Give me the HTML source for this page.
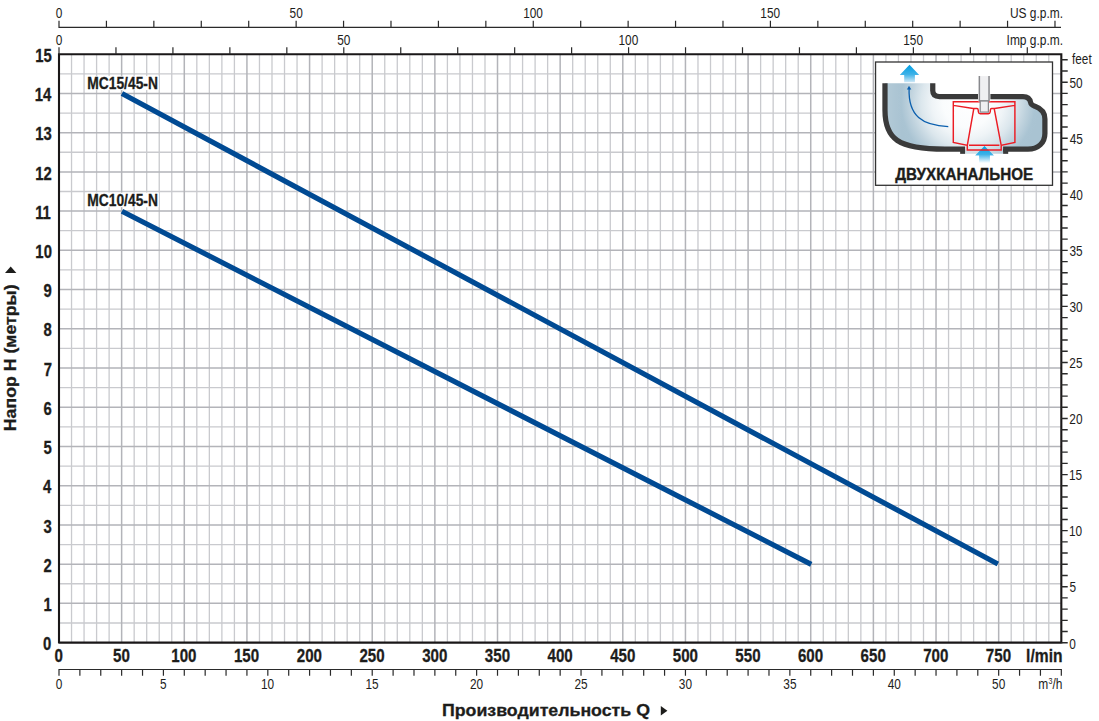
<!DOCTYPE html>
<html lang="ru"><head><meta charset="utf-8"><title>MC 45-N</title>
<style>html,body{margin:0;padding:0;background:#fff}body{width:1099px;height:721px;overflow:hidden}svg{display:block}</style>
</head><body>
<svg width="1099" height="721" viewBox="0 0 1099 721" font-family="'Liberation Sans', Arial, sans-serif">
<defs>
<linearGradient id="ga" x1="0" y1="0" x2="0" y2="1"><stop offset="0" stop-color="#009ee2"/><stop offset="0.55" stop-color="#3db2e8"/><stop offset="1" stop-color="#cfe8f6"/></linearGradient>
<linearGradient id="ga2" x1="0" y1="0" x2="0" y2="1"><stop offset="0" stop-color="#009ee2"/><stop offset="0.5" stop-color="#3db2e8"/><stop offset="1" stop-color="#ffffff"/></linearGradient>

<radialGradient id="gf" gradientUnits="userSpaceOnUse" cx="968" cy="102" r="72">
<stop offset="0" stop-color="#ffffff"/><stop offset="0.35" stop-color="#fafcfd"/><stop offset="0.5" stop-color="#eff4f7"/><stop offset="0.65" stop-color="#dce7ed"/><stop offset="0.8" stop-color="#c0d3de"/><stop offset="0.93" stop-color="#aac4d3"/><stop offset="1" stop-color="#a9c3d2"/></radialGradient>
<linearGradient id="gl" gradientUnits="userSpaceOnUse" x1="886" y1="0" x2="902" y2="0"><stop offset="0" stop-color="#fff" stop-opacity="0.12"/><stop offset="1" stop-color="#fff" stop-opacity="0"/></linearGradient>
</defs>
<rect width="1099" height="721" fill="#fff"/>
<path d="M71.53 54.20V642.60M84.06 54.20V642.60M96.59 54.20V642.60M109.12 54.20V642.60M134.17 54.20V642.60M146.70 54.20V642.60M159.23 54.20V642.60M171.76 54.20V642.60M196.82 54.20V642.60M209.35 54.20V642.60M221.88 54.20V642.60M234.41 54.20V642.60M259.46 54.20V642.60M271.99 54.20V642.60M284.52 54.20V642.60M297.05 54.20V642.60M322.11 54.20V642.60M334.64 54.20V642.60M347.17 54.20V642.60M359.70 54.20V642.60M384.75 54.20V642.60M397.28 54.20V642.60M409.81 54.20V642.60M422.34 54.20V642.60M447.40 54.20V642.60M459.93 54.20V642.60M472.46 54.20V642.60M484.99 54.20V642.60M510.04 54.20V642.60M522.57 54.20V642.60M535.10 54.20V642.60M547.63 54.20V642.60M572.69 54.20V642.60M585.22 54.20V642.60M597.75 54.20V642.60M610.28 54.20V642.60M635.33 54.20V642.60M647.86 54.20V642.60M660.39 54.20V642.60M672.92 54.20V642.60M697.98 54.20V642.60M710.51 54.20V642.60M723.04 54.20V642.60M735.57 54.20V642.60M760.62 54.20V642.60M773.15 54.20V642.60M785.68 54.20V642.60M798.21 54.20V642.60M823.27 54.20V642.60M835.80 54.20V642.60M848.33 54.20V642.60M860.86 54.20V642.60M885.91 54.20V642.60M898.44 54.20V642.60M910.97 54.20V642.60M923.50 54.20V642.60M948.56 54.20V642.60M961.09 54.20V642.60M973.62 54.20V642.60M986.15 54.20V642.60M1011.20 54.20V642.60M1023.73 54.20V642.60M1036.26 54.20V642.60M1048.79 54.20V642.60" stroke="#c9cace" stroke-width="1.3" fill="none"/>
<path d="M59.00 622.99H1061.32M59.00 583.76H1061.32M59.00 544.53H1061.32M59.00 505.31H1061.32M59.00 466.08H1061.32M59.00 426.85H1061.32M59.00 387.62H1061.32M59.00 348.40H1061.32M59.00 309.17H1061.32M59.00 269.94H1061.32M59.00 230.72H1061.32M59.00 191.49H1061.32M59.00 152.26H1061.32M59.00 113.04H1061.32M59.00 73.81H1061.32" stroke="#c9cace" stroke-width="1.3" fill="none"/>
<path d="M121.64 54.20V642.60M184.29 54.20V642.60M246.93 54.20V642.60M309.58 54.20V642.60M372.22 54.20V642.60M434.87 54.20V642.60M497.51 54.20V642.60M560.16 54.20V642.60M622.80 54.20V642.60M685.45 54.20V642.60M748.09 54.20V642.60M810.74 54.20V642.60M873.38 54.20V642.60M936.03 54.20V642.60M998.67 54.20V642.60M59.00 603.37H1061.32M59.00 564.15H1061.32M59.00 524.92H1061.32M59.00 485.69H1061.32M59.00 446.47H1061.32M59.00 407.24H1061.32M59.00 368.01H1061.32M59.00 328.78H1061.32M59.00 289.56H1061.32M59.00 250.33H1061.32M59.00 211.10H1061.32M59.00 171.88H1061.32M59.00 132.65H1061.32M59.00 93.42H1061.32" stroke="#b3b4b9" stroke-width="1.5" fill="none"/>
<rect x="86.8" y="75.8" width="72" height="14.3" fill="#fff"/>
<rect x="86.8" y="192.6" width="72" height="14.6" fill="#fff"/>
<path d="M121.94 93.52L997.85 564.05M121.94 211.20L811.24 564.35" stroke="#004a93" stroke-width="5.2" fill="none"/>
<text transform="translate(87.28 88.70) scale(0.8637 1)" font-size="16" font-weight="bold" fill="#1d1d1b" stroke="#1d1d1b" stroke-width="0.3">MC15/45-N</text>
<text transform="translate(87.28 206.10) scale(0.8637 1)" font-size="16" font-weight="bold" fill="#1d1d1b" stroke="#1d1d1b" stroke-width="0.3">MC10/45-N</text>
<path d="M59.00 53.20V643.60M1061.32 53.20V643.60M59.00 54.20H1061.32M59.00 642.60H1061.32" stroke="#1a1718" stroke-width="2.1" fill="none"/>
<text transform="translate(42.93 650.30) scale(0.8000 1)" font-size="18.6" font-weight="bold" fill="#1d1d1b" stroke="#1d1d1b" stroke-width="0.3">0</text>
<text transform="translate(43.44 611.07) scale(0.8000 1)" font-size="18.6" font-weight="bold" fill="#1d1d1b" stroke="#1d1d1b" stroke-width="0.3">1</text>
<text transform="translate(43.62 571.85) scale(0.8000 1)" font-size="18.6" font-weight="bold" fill="#1d1d1b" stroke="#1d1d1b" stroke-width="0.3">2</text>
<text transform="translate(43.56 532.62) scale(0.8000 1)" font-size="18.6" font-weight="bold" fill="#1d1d1b" stroke="#1d1d1b" stroke-width="0.3">3</text>
<text transform="translate(43.10 493.39) scale(0.8000 1)" font-size="18.6" font-weight="bold" fill="#1d1d1b" stroke="#1d1d1b" stroke-width="0.3">4</text>
<text transform="translate(43.44 454.17) scale(0.8000 1)" font-size="18.6" font-weight="bold" fill="#1d1d1b" stroke="#1d1d1b" stroke-width="0.3">5</text>
<text transform="translate(43.56 414.94) scale(0.8000 1)" font-size="18.6" font-weight="bold" fill="#1d1d1b" stroke="#1d1d1b" stroke-width="0.3">6</text>
<text transform="translate(43.68 375.71) scale(0.8000 1)" font-size="18.6" font-weight="bold" fill="#1d1d1b" stroke="#1d1d1b" stroke-width="0.3">7</text>
<text transform="translate(43.48 336.48) scale(0.8000 1)" font-size="18.6" font-weight="bold" fill="#1d1d1b" stroke="#1d1d1b" stroke-width="0.3">8</text>
<text transform="translate(43.58 297.26) scale(0.8000 1)" font-size="18.6" font-weight="bold" fill="#1d1d1b" stroke="#1d1d1b" stroke-width="0.3">9</text>
<text transform="translate(35.36 258.03) scale(0.8000 1)" font-size="18.6" font-weight="bold" fill="#1d1d1b" stroke="#1d1d1b" stroke-width="0.3">10</text>
<text transform="translate(35.16 218.80) scale(0.8000 1)" font-size="18.6" font-weight="bold" fill="#1d1d1b" stroke="#1d1d1b" stroke-width="0.3">11</text>
<text transform="translate(35.34 179.58) scale(0.8000 1)" font-size="18.6" font-weight="bold" fill="#1d1d1b" stroke="#1d1d1b" stroke-width="0.3">12</text>
<text transform="translate(35.29 140.35) scale(0.8000 1)" font-size="18.6" font-weight="bold" fill="#1d1d1b" stroke="#1d1d1b" stroke-width="0.3">13</text>
<text transform="translate(34.83 101.12) scale(0.8000 1)" font-size="18.6" font-weight="bold" fill="#1d1d1b" stroke="#1d1d1b" stroke-width="0.3">14</text>
<text transform="translate(35.16 61.90) scale(0.8000 1)" font-size="18.6" font-weight="bold" fill="#1d1d1b" stroke="#1d1d1b" stroke-width="0.3">15</text>
<text transform="translate(54.61 662.00) scale(0.8120 1)" font-size="18.6" font-weight="bold" fill="#1d1d1b" stroke="#1d1d1b" stroke-width="0.3">0</text>
<text transform="translate(113.12 662.00) scale(0.8120 1)" font-size="18.6" font-weight="bold" fill="#1d1d1b" stroke="#1d1d1b" stroke-width="0.3">50</text>
<text transform="translate(171.32 662.00) scale(0.8120 1)" font-size="18.6" font-weight="bold" fill="#1d1d1b" stroke="#1d1d1b" stroke-width="0.3">100</text>
<text transform="translate(233.97 662.00) scale(0.8120 1)" font-size="18.6" font-weight="bold" fill="#1d1d1b" stroke="#1d1d1b" stroke-width="0.3">150</text>
<text transform="translate(296.83 662.00) scale(0.8120 1)" font-size="18.6" font-weight="bold" fill="#1d1d1b" stroke="#1d1d1b" stroke-width="0.3">200</text>
<text transform="translate(359.47 662.00) scale(0.8120 1)" font-size="18.6" font-weight="bold" fill="#1d1d1b" stroke="#1d1d1b" stroke-width="0.3">250</text>
<text transform="translate(422.21 662.00) scale(0.8120 1)" font-size="18.6" font-weight="bold" fill="#1d1d1b" stroke="#1d1d1b" stroke-width="0.3">300</text>
<text transform="translate(484.85 662.00) scale(0.8120 1)" font-size="18.6" font-weight="bold" fill="#1d1d1b" stroke="#1d1d1b" stroke-width="0.3">350</text>
<text transform="translate(547.56 662.00) scale(0.8120 1)" font-size="18.6" font-weight="bold" fill="#1d1d1b" stroke="#1d1d1b" stroke-width="0.3">400</text>
<text transform="translate(610.20 662.00) scale(0.8120 1)" font-size="18.6" font-weight="bold" fill="#1d1d1b" stroke="#1d1d1b" stroke-width="0.3">450</text>
<text transform="translate(672.73 662.00) scale(0.8120 1)" font-size="18.6" font-weight="bold" fill="#1d1d1b" stroke="#1d1d1b" stroke-width="0.3">500</text>
<text transform="translate(735.37 662.00) scale(0.8120 1)" font-size="18.6" font-weight="bold" fill="#1d1d1b" stroke="#1d1d1b" stroke-width="0.3">550</text>
<text transform="translate(797.97 662.00) scale(0.8120 1)" font-size="18.6" font-weight="bold" fill="#1d1d1b" stroke="#1d1d1b" stroke-width="0.3">600</text>
<text transform="translate(860.62 662.00) scale(0.8120 1)" font-size="18.6" font-weight="bold" fill="#1d1d1b" stroke="#1d1d1b" stroke-width="0.3">650</text>
<text transform="translate(923.22 662.00) scale(0.8120 1)" font-size="18.6" font-weight="bold" fill="#1d1d1b" stroke="#1d1d1b" stroke-width="0.3">700</text>
<text transform="translate(985.86 662.00) scale(0.8120 1)" font-size="18.6" font-weight="bold" fill="#1d1d1b" stroke="#1d1d1b" stroke-width="0.3">750</text>
<text transform="translate(1026.11 662.00) scale(0.8400 1)" font-size="18.6" font-weight="bold" fill="#1d1d1b" stroke="#1d1d1b" stroke-width="0.3">l/min</text>
<path d="M58.40 669.50H1061.92M59.00 669.50v6.2M79.88 669.50v6.2M100.76 669.50v6.2M121.64 669.50v6.2M142.53 669.50v6.2M163.41 669.50v6.2M184.29 669.50v6.2M205.17 669.50v6.2M226.05 669.50v6.2M246.93 669.50v6.2M267.82 669.50v6.2M288.70 669.50v6.2M309.58 669.50v6.2M330.46 669.50v6.2M351.34 669.50v6.2M372.22 669.50v6.2M393.11 669.50v6.2M413.99 669.50v6.2M434.87 669.50v6.2M455.75 669.50v6.2M476.63 669.50v6.2M497.51 669.50v6.2M518.40 669.50v6.2M539.28 669.50v6.2M560.16 669.50v6.2M581.04 669.50v6.2M601.92 669.50v6.2M622.80 669.50v6.2M643.69 669.50v6.2M664.57 669.50v6.2M685.45 669.50v6.2M706.33 669.50v6.2M727.21 669.50v6.2M748.09 669.50v6.2M768.98 669.50v6.2M789.86 669.50v6.2M810.74 669.50v6.2M831.62 669.50v6.2M852.50 669.50v6.2M873.38 669.50v6.2M894.27 669.50v6.2M915.15 669.50v6.2M936.03 669.50v6.2M956.91 669.50v6.2M977.79 669.50v6.2M998.67 669.50v6.2M1019.56 669.50v6.2M1040.44 669.50v6.2M1061.32 669.50v6.2" stroke="#2a2a2a" stroke-width="1.2" fill="none"/>
<text transform="translate(55.70 688.60) scale(0.7750 1)" font-size="15.3" font-weight="normal" fill="#1d1d1b" >0</text>
<text transform="translate(160.12 688.60) scale(0.7750 1)" font-size="15.3" font-weight="normal" fill="#1d1d1b" >5</text>
<text transform="translate(261.00 688.60) scale(0.7750 1)" font-size="15.3" font-weight="normal" fill="#1d1d1b" >10</text>
<text transform="translate(365.43 688.60) scale(0.7750 1)" font-size="15.3" font-weight="normal" fill="#1d1d1b" >15</text>
<text transform="translate(469.97 688.60) scale(0.7750 1)" font-size="15.3" font-weight="normal" fill="#1d1d1b" >20</text>
<text transform="translate(574.40 688.60) scale(0.7750 1)" font-size="15.3" font-weight="normal" fill="#1d1d1b" >25</text>
<text transform="translate(678.86 688.60) scale(0.7750 1)" font-size="15.3" font-weight="normal" fill="#1d1d1b" >30</text>
<text transform="translate(783.29 688.60) scale(0.7750 1)" font-size="15.3" font-weight="normal" fill="#1d1d1b" >35</text>
<text transform="translate(887.77 688.60) scale(0.7750 1)" font-size="15.3" font-weight="normal" fill="#1d1d1b" >40</text>
<text transform="translate(992.07 688.60) scale(0.7750 1)" font-size="15.3" font-weight="normal" fill="#1d1d1b" >50</text>
<text transform="translate(1038.21 688.70) scale(0.7870 1)" font-size="15.2" font-weight="normal" fill="#1d1d1b" >m</text>
<text transform="translate(1048.43 683.80) scale(0.7870 1)" font-size="9" font-weight="normal" fill="#1d1d1b" >3</text>
<text transform="translate(1052.40 688.70) scale(0.7870 1)" font-size="15.2" font-weight="normal" fill="#1d1d1b" >/h</text>
<path d="M58.40 27.30H1061.02M59.00 27.30v-6.6M106.43 27.30v-6.6M153.85 27.30v-6.6M201.28 27.30v-6.6M248.71 27.30v-6.6M296.14 27.30v-6.6M343.56 27.30v-6.6M390.99 27.30v-6.6M438.42 27.30v-6.6M485.85 27.30v-6.6M533.27 27.30v-6.6M580.70 27.30v-6.6M628.13 27.30v-6.6M675.56 27.30v-6.6M722.98 27.30v-6.6M770.41 27.30v-6.6M817.84 27.30v-6.6M865.27 27.30v-6.6M912.69 27.30v-6.6M960.12 27.30v-6.6M1007.55 27.30v-6.6M1054.98 27.30v-6.6" stroke="#2a2a2a" stroke-width="1.2" fill="none"/>
<text transform="translate(55.70 18.20) scale(0.7750 1)" font-size="15.3" font-weight="normal" fill="#1d1d1b" >0</text>
<text transform="translate(289.54 18.20) scale(0.7750 1)" font-size="15.3" font-weight="normal" fill="#1d1d1b" >50</text>
<text transform="translate(523.16 18.20) scale(0.7750 1)" font-size="15.3" font-weight="normal" fill="#1d1d1b" >100</text>
<text transform="translate(760.30 18.20) scale(0.7750 1)" font-size="15.3" font-weight="normal" fill="#1d1d1b" >150</text>
<text transform="translate(1009.91 18.00) scale(0.7870 1)" font-size="15.2" font-weight="normal" fill="#1d1d1b" >US g.p.m.</text>
<path d="M59.00 54.20v-7M115.96 54.20v-7M172.92 54.20v-7M229.87 54.20v-7M286.83 54.20v-7M343.79 54.20v-7M400.75 54.20v-7M457.71 54.20v-7M514.66 54.20v-7M571.62 54.20v-7M628.58 54.20v-7M685.54 54.20v-7M742.50 54.20v-7M799.45 54.20v-7M856.41 54.20v-7M913.37 54.20v-7M970.33 54.20v-7M1027.29 54.20v-7" stroke="#2a2a2a" stroke-width="1.2" fill="none"/>
<text transform="translate(55.70 45.30) scale(0.7750 1)" font-size="15.3" font-weight="normal" fill="#1d1d1b" >0</text>
<text transform="translate(337.19 45.30) scale(0.7750 1)" font-size="15.3" font-weight="normal" fill="#1d1d1b" >50</text>
<text transform="translate(618.47 45.30) scale(0.7750 1)" font-size="15.3" font-weight="normal" fill="#1d1d1b" >100</text>
<text transform="translate(903.26 45.30) scale(0.7750 1)" font-size="15.3" font-weight="normal" fill="#1d1d1b" >150</text>
<text transform="translate(1006.59 45.10) scale(0.7870 1)" font-size="15.2" font-weight="normal" fill="#1d1d1b" >Imp g.p.m.</text>
<path d="M1061.32 642.75h6.4M1061.32 631.54h6.4M1061.32 620.33h6.4M1061.32 609.12h6.4M1061.32 597.91h6.4M1061.32 586.70h6.4M1061.32 575.48h6.4M1061.32 564.27h6.4M1061.32 553.06h6.4M1061.32 541.85h6.4M1061.32 530.64h6.4M1061.32 519.43h6.4M1061.32 508.22h6.4M1061.32 497.01h6.4M1061.32 485.80h6.4M1061.32 474.59h6.4M1061.32 463.37h6.4M1061.32 452.16h6.4M1061.32 440.95h6.4M1061.32 429.74h6.4M1061.32 418.53h6.4M1061.32 407.32h6.4M1061.32 396.11h6.4M1061.32 384.90h6.4M1061.32 373.69h6.4M1061.32 362.47h6.4M1061.32 351.26h6.4M1061.32 340.05h6.4M1061.32 328.84h6.4M1061.32 317.63h6.4M1061.32 306.42h6.4M1061.32 295.21h6.4M1061.32 284.00h6.4M1061.32 272.79h6.4M1061.32 261.58h6.4M1061.32 250.37h6.4M1061.32 239.15h6.4M1061.32 227.94h6.4M1061.32 216.73h6.4M1061.32 205.52h6.4M1061.32 194.31h6.4M1061.32 183.10h6.4M1061.32 171.89h6.4M1061.32 160.68h6.4M1061.32 149.47h6.4M1061.32 138.26h6.4M1061.32 127.04h6.4M1061.32 115.83h6.4M1061.32 104.62h6.4M1061.32 93.41h6.4M1061.32 82.20h6.4M1061.32 70.99h6.4M1061.32 59.78h6.4" stroke="#2a2a2a" stroke-width="1.4" fill="none"/>
<text transform="translate(1069.24 649.25) scale(0.7750 1)" font-size="15.3" font-weight="normal" fill="#1d1d1b" >0</text>
<text transform="translate(1069.43 592.45) scale(0.7750 1)" font-size="15.3" font-weight="normal" fill="#1d1d1b" >5</text>
<text transform="translate(1069.00 536.39) scale(0.7750 1)" font-size="15.3" font-weight="normal" fill="#1d1d1b" >10</text>
<text transform="translate(1069.00 480.34) scale(0.7750 1)" font-size="15.3" font-weight="normal" fill="#1d1d1b" >15</text>
<text transform="translate(1069.30 424.28) scale(0.7750 1)" font-size="15.3" font-weight="normal" fill="#1d1d1b" >20</text>
<text transform="translate(1069.30 368.22) scale(0.7750 1)" font-size="15.3" font-weight="normal" fill="#1d1d1b" >25</text>
<text transform="translate(1069.45 312.17) scale(0.7750 1)" font-size="15.3" font-weight="normal" fill="#1d1d1b" >30</text>
<text transform="translate(1069.45 256.12) scale(0.7750 1)" font-size="15.3" font-weight="normal" fill="#1d1d1b" >35</text>
<text transform="translate(1069.63 200.06) scale(0.7750 1)" font-size="15.3" font-weight="normal" fill="#1d1d1b" >40</text>
<text transform="translate(1069.63 144.01) scale(0.7750 1)" font-size="15.3" font-weight="normal" fill="#1d1d1b" >45</text>
<text transform="translate(1069.43 87.95) scale(0.7750 1)" font-size="15.3" font-weight="normal" fill="#1d1d1b" >50</text>
<text transform="translate(1072.03 64.30) scale(0.7752 1)" font-size="15.2" font-weight="normal" fill="#1d1d1b" >feet</text>
<text transform="translate(442.01 715.90) scale(1.0446 1)" font-size="17" font-weight="bold" fill="#1d1d1b" stroke="#1d1d1b" stroke-width="0.3">Производительность Q</text>
<path d="M660.8 706.0L667.4 710.8L660.8 715.6Z" fill="#1d1d1b"/>
<text transform="translate(15.6 431.19) rotate(-90) scale(1.0425 1)" font-size="17" font-weight="bold" fill="#1d1d1b" stroke="#1d1d1b" stroke-width="0.3">Напор H (метры)</text>
<path d="M5.0 272.9L16.4 272.9L10.7 266.6Z" fill="#1d1d1b"/>
<g>
<rect x="875.55" y="62.0" width="176.95" height="123.3" fill="#fff" stroke="#333" stroke-width="1.3"/>
<path d="M884.98 83.2H932.75V90.5C932.75 94.6 935 96.5 939.5 96.5H1023C1027.5 96.5 1030 98.8 1030.6 102.4C1031 105 1033 105.6 1035 106.3C1041 108.5 1044.9 112.5 1044.9 119V133.5C1044.9 143 1038 149.2 1028 149.2H1003.1V153.7H965V149.1H945C898 149.1 884.98 139 884.98 110Z" fill="url(#gf)"/>
<path d="M884.98 83.2H932.75V90.5C932.75 94.6 935 96.5 939.5 96.5H1023C1027.5 96.5 1030 98.8 1030.6 102.4C1031 105 1033 105.6 1035 106.3C1041 108.5 1044.9 112.5 1044.9 119V133.5C1044.9 143 1038 149.2 1028 149.2H1003.1V153.7H965V149.1H945C898 149.1 884.98 139 884.98 110Z" fill="url(#gl)"/>
<path d="M909.5 64.8L919.2 74.9H914.9V82.2H904.2V74.9H899.8Z" fill="url(#ga)"/>
<path d="M984.5 145.9L994 155.55H989.95V163H979.1V155.55H975.1Z" fill="url(#ga2)"/>
<path d="M948.3 126.6C922.4 125.3 908.1 116.2 909.1 88.5" stroke="#0a5fae" stroke-width="1.3" fill="none"/>
<path d="M909 85.7L911.3 89.4H906.9Z" fill="#0a5fae"/>
<path d="M884.98 83.2V110C884.98 139 898 149.15 945 149.15H965.05" stroke="#3a3a3a" stroke-width="5.25" fill="none"/>
<path d="M932.75 83.2V90.5C932.75 94.6 935 96.5 939.5 96.5H1023C1027.5 96.5 1030 98.8 1030.6 102.4C1031 105 1033 105.6 1035 106.3C1041 108.5 1044.9 112.5 1044.9 119V133.5C1044.9 143 1038 149.2 1028 149.2H1003.1" stroke="#3a3a3a" stroke-width="5.25" fill="none"/>
<rect x="960.15" y="149" width="4.9" height="4.85" fill="#3a3a3a"/><rect x="1003.1" y="149" width="5.1" height="4.85" fill="#3a3a3a"/>
<path d="M953.3 101.65H1014.9V142.5L1001.2 145.3V149.9H967.3V145.3L953.3 142.5ZM953.3 105.4L973.2 108.5H977Q978.1 108.5 978.2 110L978.4 112Q978.6 113.8 980.2 113.8H988.4Q990 113.8 990.2 112L990.4 110Q990.5 108.5 991.6 108.5H994.6L1014.9 105.4M973.8 108.6L967.3 145.3M994.2 108.6L1001.2 145.3M969 145.3H999.4" stroke="#ec1c24" stroke-width="1.45" fill="none" stroke-linejoin="miter"/>
<rect x="978" y="76.1" width="12.4" height="25.2" fill="#fff"/>
<rect x="979.35" y="76.1" width="9.7" height="24.8" fill="#efeff1"/>
<path d="M979.35 76.1V101M989.05 76.1V101M979.6 100.9H988.8" stroke="#88898d" stroke-width="1.5" fill="none"/>
<rect x="980.2" y="101" width="8.2" height="11.1" fill="#efeff1" stroke="#88898d" stroke-width="1.25"/>
<text transform="translate(895.27 180.30) scale(0.9757 1)" font-size="15.6" font-weight="bold" fill="#1d1d1b" stroke="#1d1d1b" stroke-width="0.35">ДВУХКАНАЛЬНОЕ</text>
</g>
</svg>
</body></html>
